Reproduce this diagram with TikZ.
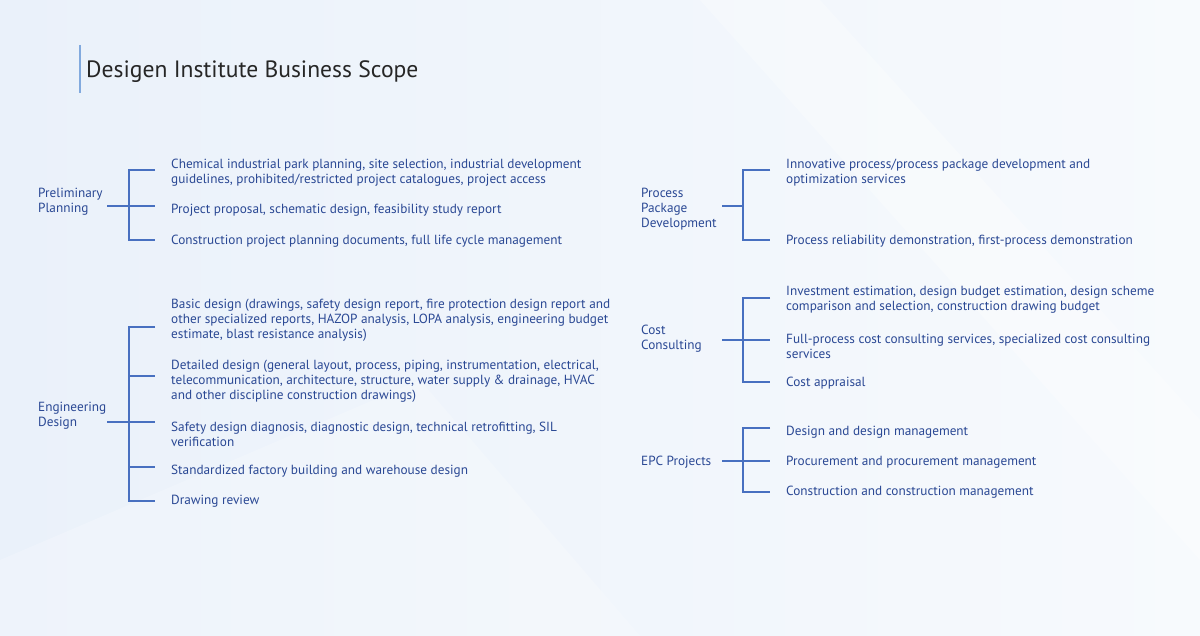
\documentclass[tikz,border=0pt]{standalone}
\usepackage{fontspec}
\setmainfont{PT Sans}
\definecolor{textblue}{RGB}{42,72,148}
\definecolor{lineblue}{RGB}{72,112,192}
\definecolor{barblue}{RGB}{130,170,222}
\definecolor{bgleft}{RGB}{234,241,250}
\definecolor{bgright}{RGB}{247,250,253}
\begin{document}
\begin{tikzpicture}[x=1pt,y=-1pt,
  item/.style={anchor=west, inner sep=0pt, yshift=-1.5pt, align=left, text=textblue, font=\fontsize{13.25}{15}\selectfont},
  lbl/.style={item},
  br/.style={draw=lineblue, line width=1.3pt}]
\useasboundingbox (0,0) rectangle (1200,636);
\shade[left color=bgleft, right color=bgright] (0,0) rectangle (1200,636);
\fill[white, opacity=0.3] (700,0) -- (820,0) -- (1200,420) -- (1200,560) -- cycle;
\fill[white, opacity=0.2] (0,560) -- (420,380) -- (640,636) -- (0,636) -- cycle;

% title
\draw[barblue, line width=1.5pt] (80,45) -- (80,93);
\node[anchor=west, inner sep=0pt, text=black!85, font=\fontsize{23.6}{28}\selectfont] (title) at (86,72) {Desigen Institute Business Scope};

% ---------- Preliminary Planning
\node[lbl] (pp) at (38,200.5) {Preliminary\\Planning};
\node[item] (pp1) at (171,171.5) {Chemical industrial park planning, site selection, industrial development\\guidelines, prohibited/restricted project catalogues, project access};
\node[item] (pp2) at (171,209) {Project proposal, schematic design, feasibility study report};
\node[item] (pp3) at (171,240) {Construction project planning documents, full life cycle management};
\coordinate (ppa) at (107,206);
\coordinate (ppb) at (129,206);
\draw[br] (ppa) -- (ppb);
\draw[br] ([xshift=-16pt]pp1.west |- 0,170) -- (ppb |- 0,170) -- (ppb |- 0,240) -- ([xshift=-16pt]pp3.west |- 0,240);
\draw[br] (ppb) -- ([xshift=-16pt]pp2.west |- ppb);

% ---------- Engineering Design
\node[lbl] (ed) at (38,414.5) {Engineering\\Design};
\node[item] (ed1) at (171,319) {Basic design (drawings, safety design report, fire protection design report and\\other specialized reports, HAZOP analysis, LOPA analysis, engineering budget\\estimate, blast resistance analysis)};
\node[item] (ed2) at (171,380) {Detailed design (general layout, process, piping, instrumentation, electrical,\\telecommunication, architecture, structure, water supply \& drainage, HVAC\\and other discipline construction drawings)};
\node[item] (ed3) at (171,432.5) {Safety design diagnosis, diagnostic design, technical retrofitting, SIL\\verification};
\node[item] (ed4) at (171,470) {Standardized factory building and warehouse design};
\node[item] (ed5) at (171,500) {Drawing review};
\coordinate (eda) at (107,422);
\coordinate (edb) at (129,422);
\draw[br] (eda) -- (edb);
\draw[br] ([xshift=-16pt]ed1.west |- 0,327) -- (edb |- 0,327) -- (edb |- 0,501) -- ([xshift=-16pt]ed5.west |- 0,501);
\draw[br] (edb |- 0,376) -- ([xshift=-16pt]ed2.west |- 0,376);
\draw[br] (edb) -- ([xshift=-16pt]ed3.west |- edb);
\draw[br] (edb |- 0,467) -- ([xshift=-16pt]ed4.west |- 0,467);

% ---------- Process Package Development
\node[lbl] (pk) at (641,208) {Process\\Package\\Development};
\node[item] (pk1) at (786,171.5) {Innovative process/process package development and\\optimization services};
\node[item] (pk2) at (786,240) {Process reliability demonstration, first-process demonstration};
\coordinate (pka) at (722,206);
\coordinate (pkb) at (743,206);
\draw[br] (pka) -- (pkb);
\draw[br] ([xshift=-16pt]pk1.west |- 0,170) -- (pkb |- 0,170) -- (pkb |- 0,240) -- ([xshift=-16pt]pk2.west |- 0,240);

% ---------- Cost Consulting
\node[lbl] (cc) at (641,337.5) {Cost\\Consulting};
\node[item] (cc1) at (786,298.5) {Investment estimation, design budget estimation, design scheme\\comparison and selection, construction drawing budget};
\node[item] (cc2) at (786,344.5) {Full-process cost consulting services, specialized cost consulting\\services};
\node[item] (cc3) at (786,382) {Cost appraisal};
\coordinate (cca) at (722,340);
\coordinate (ccb) at (743,340);
\draw[br] (cca) -- (ccb);
\draw[br] ([xshift=-16pt]cc1.west |- 0,298) -- (ccb |- 0,298) -- (ccb |- 0,382) -- ([xshift=-16pt]cc3.west |- 0,382);
\draw[br] (ccb) -- ([xshift=-16pt]cc2.west |- ccb);

% ---------- EPC Projects
\node[lbl] (epc) at (641,461) {EPC Projects};
\node[item] (epc1) at (786,431) {Design and design management};
\node[item] (epc2) at (786,461) {Procurement and procurement management};
\node[item] (epc3) at (786,491) {Construction and construction management};
\coordinate (epca) at (722,461);
\coordinate (epcb) at (743,461);
\draw[br] (epca) -- (epcb);
\draw[br] ([xshift=-16pt]epc1.west |- 0,428) -- (epcb |- 0,428) -- (epcb |- 0,492) -- ([xshift=-16pt]epc3.west |- 0,492);
\draw[br] (epcb) -- ([xshift=-16pt]epc2.west |- epcb);
\end{tikzpicture}
\end{document}
